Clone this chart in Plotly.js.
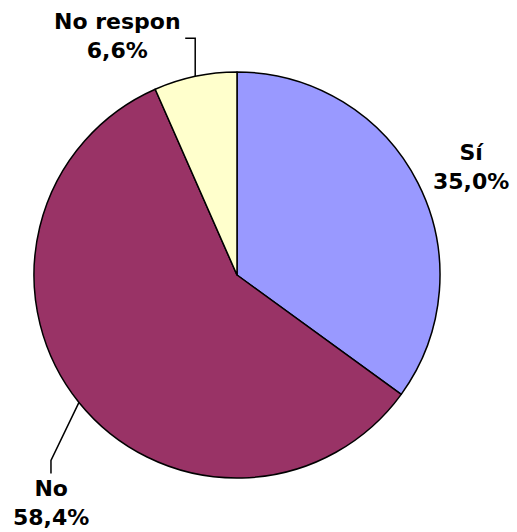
<!DOCTYPE html>
<html>
<head>
<meta charset="utf-8">
<script src="https://cdn.plot.ly/plotly-3.0.1.min.js"></script>
<style>html,body{margin:0;padding:0;background:#fff;}#chart{width:517px;height:532px;}</style>
</head>
<body>
<div id="chart"></div>
<script>
const labels = ['Sí', 'No', 'No respon'];
const values = [35.0, 58.4, 6.6];
const colors = ['#9999FF', '#993366', '#FFFFCC'];

const W = 517, H = 532;
const cx = 237, cy = 275, R = 203;
// label placement style relative to slice edge point
const labelStyle = [
  {dx: 53, dy: -16, leader: null},
  {dx: -28, dy: 101, leader: 'down'},
  {dx: -78, dy: -40, leader: 'up'}
];

const total = values.reduce((a, b) => a + b, 0);
const annotations = [];
const shapes = [];
let cum = 0;
const px = x => x / W, py = y => 1 - y / H;
values.forEach((v, i) => {
  const mid = (cum + v / 2) / total * 2 * Math.PI;
  cum += v;
  const ex = cx + R * Math.sin(mid), ey = cy - R * Math.cos(mid);
  const st = labelStyle[i];
  const lx = ex + st.dx, ly = ey + st.dy;
  annotations.push({
    x: px(lx), y: py(ly), xref: 'paper', yref: 'paper',
    text: labels[i] + '<br>' + v.toFixed(1).replace('.', ',') + '%',
    showarrow: false, xanchor: 'center', yanchor: 'middle',
    font: {family: 'DejaVu Sans', size: 22, color: '#000', weight: 'bold'}
  });
  if (st.leader === 'down') {
    const kx = ex - 28, ky = ey + 58;
    shapes.push({type: 'path', xref: 'paper', yref: 'paper',
      path: `M ${px(ex)} ${py(ey)} L ${px(kx)} ${py(ky)} L ${px(kx)} ${py(ky + 13)}`,
      line: {color: '#000', width: 1.5}});
  } else if (st.leader === 'up') {
    const ky = ey - 38;
    shapes.push({type: 'path', xref: 'paper', yref: 'paper',
      path: `M ${px(ex)} ${py(ey)} L ${px(ex)} ${py(ky)} L ${px(ex - 10)} ${py(ky)}`,
      line: {color: '#000', width: 1.5}});
  }
});

const data = [{
  type: 'pie',
  labels: labels,
  values: values,
  marker: {colors: colors, line: {color: '#000', width: 1.5}},
  sort: false,
  direction: 'clockwise',
  rotation: 0,
  textinfo: 'none',
  hoverinfo: 'none',
  showlegend: false,
  domain: {x: [(cx - R) / W, (cx + R) / W], y: [1 - (cy + R) / H, 1 - (cy - R) / H]}
}];

const layout = {
  width: W, height: H,
  margin: {l: 0, r: 0, t: 0, b: 0},
  paper_bgcolor: '#fff',
  showlegend: false,
  annotations: annotations,
  shapes: shapes
};
Plotly.newPlot('chart', data, layout, {displayModeBar: false, staticPlot: true});
</script>
</body>
</html>
